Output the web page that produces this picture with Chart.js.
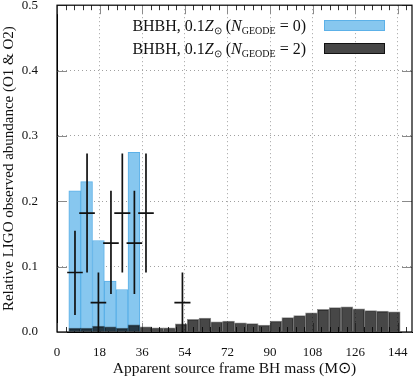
<!DOCTYPE html>
<html>
<head>
<meta charset="utf-8">
<script src="https://cdn.jsdelivr.net/npm/chart.js@4.4.0/dist/chart.umd.min.js"></script>
<style>
  body { margin: 0; background: #fff; }
  #wrap { position: relative; width: 415px; height: 379px; }
  #legend {
    position: absolute; top: 14px; right: 30px;
    font-family: "Liberation Serif", serif; font-size: 16px; color: #111;
  }
  #legend .row { display: flex; align-items: center; justify-content: flex-end; height: 23px; }
  #legend sub { font-size: 10px; vertical-align: -3px; line-height: 0; }
  #legend .sw { width: 61px; height: 11px; margin-left: 18px; box-sizing: border-box; }
</style>
</head>
<body>
<div id="wrap">
  <canvas id="chart" width="415" height="379"></canvas>
  <div id="legend">
    <div class="row"><span>BHBH, 0.1<i>Z</i><sub>⊙</sub> (<i>N</i><sub>GEODE</sub> = 0)</span><span class="sw" style="background:#87c7ef;border:1px solid #5cb1e8"></span></div>
    <div class="row"><span>BHBH, 0.1<i>Z</i><sub>⊙</sub> (<i>N</i><sub>GEODE</sub> = 2)</span><span class="sw" style="background:#474747;border:1px solid #111"></span></div>
  </div>
</div>
<script>
// bin centres (5 M_sun wide bins)
const binsGeode0 = [7.5, 12.5, 17.5, 22.5, 27.5, 32.5];
const geode0 = [0.216, 0.230, 0.140, 0.078, 0.065, 0.275];

const binsGeode2 = [7.5, 12.5, 17.5, 22.5, 27.5, 32.5, 37.5, 42.5, 47.5, 52.5,
  57.5, 62.5, 67.5, 72.5, 77.5, 82.5, 87.5, 92.5, 97.5, 102.5,
  107.5, 112.5, 117.5, 122.5, 127.5, 132.5, 137.5, 142.5];
const geode2 = [0.006, 0.006, 0.009, 0.008, 0.006, 0.011, 0.008, 0.0065, 0.0065, 0.0125,
  0.0195, 0.0214, 0.0157, 0.0168, 0.0142, 0.0127, 0.0107, 0.0168, 0.0219, 0.025,
  0.0295, 0.0346, 0.0372, 0.0387, 0.0356, 0.0326, 0.032, 0.031];

// LIGO O1 & O2 observed masses
const obsX = [7.6, 12.7, 17.5, 22.8, 27.6, 32.7, 37.6, 53.0];
const obsY = [0.091, 0.182, 0.045, 0.136, 0.182, 0.136, 0.182, 0.045];
const obsLo = [0.026, 0.091, 0.0, 0.058, 0.091, 0.058, 0.091, 0.0];
const obsHi = [0.155, 0.273, 0.091, 0.216, 0.273, 0.216, 0.273, 0.091];
const obsDx = [3.3, 3.3, 3.3, 3.3, 3.4, 3.3, 3.3, 3.4];

const xTicks = [0, 18, 36, 54, 72, 90, 108, 126, 144];
const yTicks = [0.0, 0.1, 0.2, 0.3, 0.4, 0.5];

const FONT = "'Liberation Serif', serif";
const NONE = "rgba(0,0,0,0)";

const errPts = [];
obsX.forEach((x, i) => {
  errPts.push({ x, y: obsLo[i] }, { x, y: obsHi[i] }, { x, y: null });
  errPts.push({ x: x - obsDx[i], y: obsY[i] }, { x: x + obsDx[i], y: obsY[i] }, { x, y: null });
});

function line(ctx, x1, y1, x2, y2) {
  ctx.beginPath(); ctx.moveTo(x1, y1); ctx.lineTo(x2, y2); ctx.stroke();
}

/* ticks pointing inward + closed frame */
const framePlugin = {
  id: "frame",
  beforeDatasetsDraw(chart) {
    const { ctx, chartArea: a, scales: { x, y } } = chart;
    ctx.save();
    ctx.lineWidth = 1;
    ctx.strokeStyle = "#8a8a8a";
    xTicks.forEach(v => {
      const px = Math.round(x.getPixelForValue(v)) + 0.5;
      line(ctx, px, a.top, px, a.top + 9);
      line(ctx, px, a.bottom, px, a.bottom - 9);
    });
    yTicks.forEach(v => {
      const py = Math.round(y.getPixelForValue(v)) + 0.5;
      line(ctx, a.left, py, a.left + 10, py);
      line(ctx, a.right, py, a.right - 10, py);
    });
    ctx.strokeStyle = "#333";
    for (let i = 0; i < xTicks.length; i++) {
      for (let k = 1; k < 5; k++) {
        const v = xTicks[i] + k * 18 / 5;
        if (v > x.max) break;
        const px = Math.round(x.getPixelForValue(v)) + 0.5;
        line(ctx, px, a.top, px, a.top + 5);
        line(ctx, px, a.bottom, px, a.bottom - 5);
      }
    }
    ctx.restore();
  },
  afterDraw(chart) {
    const { ctx, chartArea: a } = chart;
    ctx.save();
    ctx.strokeStyle = "#000";
    ctx.lineWidth = 1.2;
    ctx.strokeRect(a.left, a.top, a.right - a.left, a.bottom - a.top);
    ctx.restore();
  }
};

new Chart(document.getElementById("chart"), {
  type: "bar",
  data: {
    datasets: [
      {
        type: "line",
        data: errPts,
        borderColor: "#111",
        borderWidth: 1.7,
        pointRadius: 0,
        spanGaps: false,
        order: 0
      },
      {
        data: binsGeode2.map((x, i) => ({ x, y: geode2[i] })),
        backgroundColor: "rgba(0,0,0,0.72)",
        borderColor: "rgba(0,0,0,0.45)",
        borderWidth: 1,
        order: 1
      },
      {
        data: binsGeode0.map((x, i) => ({ x, y: geode0[i] })),
        backgroundColor: "#87c7ef",
        borderColor: "#5cb1e8",
        borderWidth: 1,
        order: 2
      }
    ]
  },
  options: {
    responsive: false,
    animation: false,
    layout: { padding: { top: 0, right: 3, left: 0, bottom: 0 } },
    datasets: { bar: { grouped: false, barPercentage: 1, categoryPercentage: 1 } },
    plugins: { legend: { display: false }, tooltip: { enabled: false } },
    scales: {
      x: {
        type: "linear",
        min: 0, max: 150,
        offset: false,
        afterBuildTicks: s => { s.ticks = xTicks.map(v => ({ value: v })); },
        afterFit: s => { s.height = 47; },
        grid: {
          offset: false,
          drawTicks: true,
          tickLength: 13,
          tickColor: NONE,
          color: c => (c.tick && c.tick.value === 0 ? NONE : "#a0a0a0"),
          lineWidth: 1
        },
        border: { display: true, color: "#000", width: 1, dash: [1, 3] },
        ticks: { padding: 0, color: "#111", font: { family: FONT, size: 13 } },
        title: {
          display: true,
          text: "Apparent source frame BH mass (M⊙)",
          color: "#111",
          font: { family: FONT, size: 15.5 },
          padding: { top: 0, bottom: 1 }
        }
      },
      y: {
        min: 0, max: 0.5,
        afterBuildTicks: s => { s.ticks = yTicks.map(v => ({ value: v })); },
        afterFit: s => { s.width = 57; },
        grid: {
          drawTicks: true,
          tickLength: 19,
          tickColor: NONE,
          color: c => (c.tick && (c.tick.value === 0 || c.tick.value === 0.5) ? NONE : "#a0a0a0"),
          lineWidth: 1
        },
        border: { display: true, color: "#000", width: 1, dash: [1, 3] },
        ticks: {
          padding: 0, color: "#111", font: { family: FONT, size: 13, lineHeight: 0.8 },
          callback: v => v.toFixed(1)
        },
        title: {
          display: true,
          text: "Relative LIGO observed abundance (O1 & O2)",
          color: "#111",
          font: { family: FONT, size: 15 },
          padding: { top: 0, bottom: 0 }
        }
      }
    }
  },
  plugins: [framePlugin]
});
</script>
</body>
</html>
